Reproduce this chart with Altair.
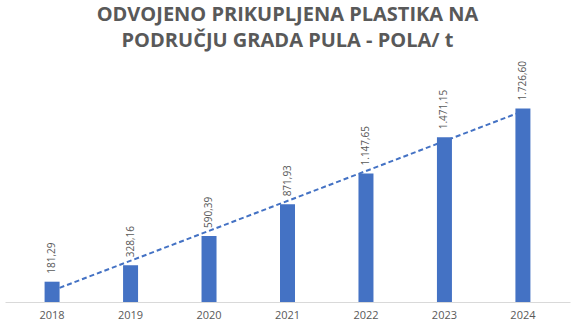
import altair as alt
import pandas as pd

years = [2018, 2019, 2020, 2021, 2022, 2023, 2024]
values = [181.29, 328.16, 590.39, 871.93, 1147.65, 1471.15, 1726.60]
labels = ["181,29", "328,16", "590,39", "871,93", "1.147,65", "1.471,15", "1.726,60"]

# Trend line end values: a hand-computed straight-line fit of the bar values,
# checked against the picture (about 95-119 at 2018 and 1684-1700 at 2024).
trend_years = [2018, 2024]
trend_values = [101, 1704]

df = pd.DataFrame({"year": years, "value": values, "label": labels})
tdf = pd.DataFrame({"year": trend_years, "value": trend_values})

FONT = "Open Sans"
GREY = "#595959"
BLUE = "#4472C4"

x = alt.X("year:O", scale=alt.Scale(paddingInner=0, paddingOuter=0.1),
          axis=alt.Axis(title=None, labelAngle=0, labelFontSize=11,
                        labelColor=GREY, labelFont=FONT, labelPadding=7,
                        ticks=False, domainColor="#d9d9d9", domainWidth=1))
y = alt.Y("value:Q", axis=None, scale=alt.Scale(domain=[0, 2000], nice=False))

trend = alt.Chart(tdf).mark_line(
    color=BLUE, strokeWidth=2, strokeDash=[5, 3]
).encode(x=x, y=y)

bars = alt.Chart(df).mark_bar(color=BLUE, size=15).encode(x=x, y=y)

text = alt.Chart(df).mark_text(angle=270, align="left", baseline="middle", dx=8,
                               fontSize=10, font=FONT, color=GREY).encode(
    x=x, y=y, text="label:N")

chart = alt.layer(trend, bars, text).properties(
    width=565, height=224,
    title=alt.TitleParams(
        text="ODVOJENO PRIKUPLJENA PLASTIKA NA",
        subtitle="PODRUČJU GRADA PULA - POLA/ t",
        font=FONT, fontSize=20, fontWeight="bold", color=GREY,
        subtitleFont=FONT, subtitleFontSize=20, subtitleFontWeight="bold",
        subtitleColor=GREY, subtitlePadding=6,
        anchor="middle", offset=10),
).configure_view(strokeWidth=0)

chart.save("out.html", embed_options={"renderer": "svg", "actions": False})
